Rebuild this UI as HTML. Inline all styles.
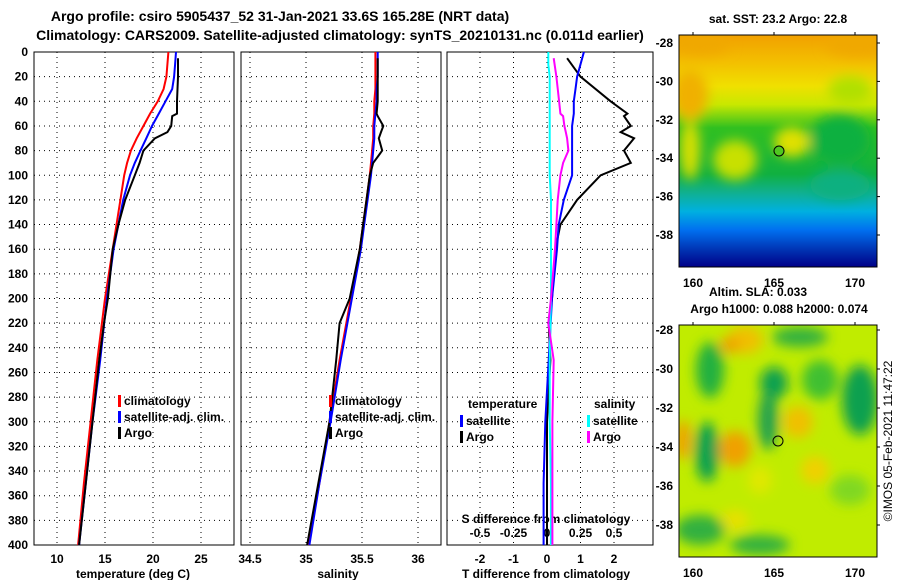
<!DOCTYPE html>
<html><head><meta charset="utf-8"><style>
body{margin:0;background:#fff;}
svg text{font-family:"Liberation Sans",sans-serif;font-weight:bold;fill:#000;}
</style></head><body>
<svg id="fig" width="900" height="580" xmlns="http://www.w3.org/2000/svg">
<defs>
<linearGradient id="sstg" x1="0" y1="0" x2="0" y2="1">
<stop offset="0" stop-color="#f2a000"/><stop offset="0.12" stop-color="#f3c000"/><stop offset="0.22" stop-color="#f0e000"/>
<stop offset="0.3" stop-color="#c8e800"/><stop offset="0.4" stop-color="#30c020"/><stop offset="0.6" stop-color="#10b040"/>
<stop offset="0.68" stop-color="#10b090"/><stop offset="0.76" stop-color="#00b0e0"/><stop offset="0.84" stop-color="#0070f0"/><stop offset="0.93" stop-color="#0030b0"/><stop offset="1" stop-color="#000088"/>
</linearGradient>
<filter id="bl" x="-50%" y="-50%" width="200%" height="200%"><feGaussianBlur stdDeviation="6"/></filter>
<clipPath id="c1"><rect x="679" y="35" width="198" height="232"/></clipPath>
<clipPath id="c2"><rect x="679" y="325" width="198" height="232"/></clipPath>
</defs>
<text x="280" y="21" font-size="14" text-anchor="middle">Argo profile: csiro 5905437_52 31-Jan-2021 33.6S 165.28E (NRT data)</text>
<text x="340" y="40" font-size="14" text-anchor="middle">Climatology: CARS2009. Satellite-adjusted climatology: synTS_20210131.nc (0.011d earlier)</text>
<g id="plots"></g>
<g>
<text x="778" y="23" font-size="12" text-anchor="middle">sat. SST: 23.2 Argo: 22.8</text>
<g clip-path="url(#c1)">
<rect x="679" y="35" width="198" height="232" fill="url(#sstg)"/>
<g filter="url(#bl)">
<ellipse cx="690" cy="95" rx="18" ry="25" fill="#f0b000"/>
<ellipse cx="860" cy="45" rx="35" ry="12" fill="#f0a800"/>
<ellipse cx="700" cy="45" rx="30" ry="10" fill="#f0a800"/>
<ellipse cx="735" cy="160" rx="22" ry="20" fill="#c8e000"/>
<ellipse cx="792" cy="142" rx="18" ry="15" fill="#e0e000"/>
<ellipse cx="690" cy="150" rx="10" ry="30" fill="#d8e000"/>
<ellipse cx="850" cy="90" rx="22" ry="14" fill="#b0e000"/>
<ellipse cx="840" cy="140" rx="30" ry="25" fill="#10b040"/>
<ellipse cx="840" cy="185" rx="30" ry="15" fill="#10b080"/>
</g></g>
<rect x="679" y="35" width="198" height="232" fill="none" stroke="#000"/>
<circle cx="779" cy="151" r="5" fill="#50c820" stroke="#000"/>
</g>
<text x="758" y="296" font-size="12" text-anchor="middle">Altim. SLA: 0.033</text>
<text x="779" y="313" font-size="12" text-anchor="middle">Argo h1000: 0.088 h2000: 0.074</text>
<g>
<g clip-path="url(#c2)">
<rect x="679" y="325" width="198" height="232" fill="#c0ec00"/>
<g filter="url(#bl)">
<ellipse cx="745" cy="340" rx="18" ry="14" fill="#f0c000"/>
<ellipse cx="730" cy="345" rx="10" ry="8" fill="#f0a000"/>
<ellipse cx="710" cy="370" rx="14" ry="28" fill="#20b040"/>
<ellipse cx="774" cy="383" rx="14" ry="16" fill="#10a050"/>
<ellipse cx="800" cy="337" rx="28" ry="10" fill="#30b040"/>
<ellipse cx="768" cy="420" rx="10" ry="30" fill="#20a050"/>
<ellipse cx="860" cy="400" rx="18" ry="35" fill="#10a050"/>
<ellipse cx="707" cy="452" rx="12" ry="30" fill="#10a050"/>
<ellipse cx="735" cy="449" rx="16" ry="18" fill="#f0a000"/>
<ellipse cx="683" cy="440" rx="8" ry="20" fill="#f0a000"/>
<ellipse cx="798" cy="422" rx="15" ry="16" fill="#f0c000"/>
<ellipse cx="815" cy="470" rx="14" ry="14" fill="#f0d000"/>
<ellipse cx="760" cy="480" rx="12" ry="14" fill="#e0e800"/>
<ellipse cx="735" cy="520" rx="14" ry="10" fill="#e8e000"/>
<ellipse cx="820" cy="380" rx="18" ry="20" fill="#40c030"/>
<ellipse cx="700" cy="530" rx="25" ry="15" fill="#30b040"/>
<ellipse cx="760" cy="545" rx="30" ry="10" fill="#30b040"/>
<ellipse cx="850" cy="490" rx="20" ry="15" fill="#80d820"/>
</g></g>
<rect x="679" y="325" width="198" height="232" fill="none" stroke="#000"/>
<circle cx="778" cy="441" r="5" fill="none" stroke="#000"/>
</g>
<text transform="translate(892,441) rotate(-90)" font-size="12" text-anchor="middle" style="font-weight:normal">©IMOS 05-Feb-2021 11:47:22</text>
</svg>
<script>
const depthTicks=[0,20,40,60,80,100,120,140,160,180,200,220,240,260,280,300,320,340,360,380,400];
const profDepth=[0,10,20,30,40,50,60,70,80,90,100,120,140,160,200,250,300,350,400];
const tempClim=[21.6,21.5,21.4,21.1,20.5,19.7,19.0,18.3,17.7,17.3,17.0,16.6,16.2,15.8,15.0,14.2,13.5,12.8,12.2];
const tempSat=[22.4,22.3,22.2,22.0,21.3,20.6,19.9,19.3,18.7,18.1,17.6,16.9,16.4,15.9,15.2,14.5,13.7,13.0,12.3];
const argoDepth=[5,20,40,50,52,60,65,70,80,90,100,120,140,160,200,220,250,300,350,400];
const tempArgo=[22.6,22.6,22.5,22.5,22.0,21.9,21.5,20.2,19.0,18.6,18.1,17.1,16.4,15.8,15.3,14.9,14.4,13.7,13.0,12.3];
const salClim=[35.62,35.62,35.62,35.62,35.61,35.61,35.6,35.6,35.59,35.58,35.57,35.54,35.51,35.48,35.4,35.3,35.21,35.12,35.02];
const salSat=[35.64,35.64,35.64,35.63,35.63,35.62,35.61,35.61,35.6,35.59,35.58,35.55,35.52,35.49,35.41,35.31,35.22,35.12,35.03];
const salArgo=[35.64,35.64,35.64,35.63,35.64,35.69,35.67,35.65,35.68,35.6,35.57,35.54,35.51,35.48,35.39,35.3,35.27,35.21,35.11,35.01];
const tDiffArgo=[0.6,1.0,1.9,2.4,2.3,2.5,2.2,2.6,2.3,2.5,1.6,0.9,0.4,0.25,0.15,0.05,0.1,0.0,0.0,0.0];
const tDiffSat=[1.1,1.0,0.9,0.85,0.8,0.8,0.75,0.75,0.75,0.75,0.75,0.5,0.35,0.3,0.15,0.05,-0.05,-0.1,-0.1];
const sDiffSat=[0.01,0.01,0.02,0.02,0.02,0.02,0.02,0.02,0.02,0.02,0.02,0.03,0.03,0.03,0.03,0.02,0.02,0.03,0.03];
const sDiffArgo=[0.05,0.07,0.09,0.1,0.12,0.13,0.14,0.15,0.16,0.12,0.1,0.08,0.07,0.06,0.03,0.01,0.05,0.04,0.04,0.04];
const tTicks=[10,15,20,25];
const sTicks=[34.5,35,35.5,36];
const tdTicks=[-2,-1,0,1,2];
const sdTicks=[-0.5,-0.25,0,0.25,0.5];
const sstLatTicks=[-28,-30,-32,-34,-36,-38];
const lonTicks=[160,165,170];

const NS="http://www.w3.org/2000/svg";
const root=document.getElementById('plots');
function el(t,a,p){const e=document.createElementNS(NS,t);for(const k in a)e.setAttribute(k,a[k]);(p||root).appendChild(e);return e;}
const yD=d=>52+d*(545-52)/400;
const xT=t=>57+(t-10)*9.6;
const xS=s=>306+(s-35)*112;
const xTD=t=>547+t*33.5;
const xSD=s=>547+s*134;
const panels=[[34,200],[241,200],[447,206]];
panels.forEach((p,i)=>{
  const g=el('g',{});
  
  
  depthTicks.slice(1,-1).forEach(d=>{const l=el('line',{x1:p[0],x2:p[0]+p[1],y1:yD(d),y2:yD(d),stroke:'#000','stroke-dasharray':'1,4'},g);
    });
  const r=el('rect',{x:p[0],y:52,width:p[1],height:493,fill:'none',stroke:'#000'},g);
  
});
function vgrid(ticks,f,name){ticks.forEach(t=>{const l=el('line',{x1:f(t),x2:f(t),y1:52,y2:545,stroke:'#000','stroke-dasharray':'1,4'});
  });}
vgrid(tTicks,xT,'temp-grid');vgrid(sTicks,xS,'sal-grid');vgrid(tdTicks,xTD,'tdiff-grid');
function txt(x,y,s,name,anchor,size){const t=el('text',{x:x,y:y,'font-size':size||12,'text-anchor':anchor||'middle'});t.textContent=s;
  return t;}
depthTicks.forEach(d=>txt(28,yD(d)+4,d,'depth-tick-label','end'));
tTicks.forEach(t=>txt(xT(t),563,t,'temp-tick-label'));
sTicks.forEach(t=>txt(xS(t),563,t,'sal-tick-label'));
tdTicks.forEach(t=>txt(xTD(t),563,t,'tdiff-tick-label'));
sdTicks.forEach(t=>txt(xSD(t),537,t,'sdiff-tick-label'));
txt(133,578,'temperature (deg C)','temp-axis-title');
txt(338,578,'salinity','sal-axis-title');
txt(546,578,'T difference from climatology','tdiff-axis-title');
txt(546,523,'S difference from climatology','sdiff-axis-title');
function line(xs,ds,fx,col,name){const pts=xs.map((v,i)=>fx(v).toFixed(1)+','+yD(ds[i]).toFixed(1)).join(' ');
  const l=el('polyline',{points:pts,fill:'none',stroke:col,'stroke-width':2});}
line(tempClim,profDepth,xT,'#f00','temp-climatology-line');
line(tempSat,profDepth,xT,'#00f','temp-satellite-line');
line(tempArgo,argoDepth,xT,'#000','temp-argo-line');
line(salClim,profDepth,xS,'#f00','sal-climatology-line');
line(salSat,profDepth,xS,'#00f','sal-satellite-line');
line(salArgo,argoDepth,xS,'#000','sal-argo-line');
line(tDiffArgo,argoDepth,xTD,'#000','tdiff-argo-line');
line(tDiffSat,profDepth,xTD,'#00f','tdiff-satellite-line');
line(sDiffSat,profDepth,xSD,'#0ff','sdiff-satellite-line');
line(sDiffArgo,argoDepth,xSD,'#f0f','sdiff-argo-line');
function leg(x,y,col,s,name){const r=el('rect',{x:x,y:y-9,width:3,height:12,fill:col});
  txt(x+6,y+1,s,name,'start');}
leg(118,404,'#f00','climatology','legend-climatology');
leg(118,420,'#00f','satellite-adj. clim.','legend-satellite');
leg(118,436,'#000','Argo','legend-argo');
leg(329,404,'#f00','climatology','legend-sal-climatology');
leg(329,420,'#00f','satellite-adj. clim.','legend-sal-satellite');
leg(329,436,'#000','Argo','legend-sal-argo');
txt(468,408,'temperature','legend-temperature-heading','start');
txt(594,408,'salinity','legend-salinity-heading','start');
leg(460,424,'#00f','satellite','legend-t-satellite');
leg(460,440,'#000','Argo','legend-t-argo');
leg(587,424,'#0ff','satellite','legend-s-satellite');
leg(587,440,'#f0f','Argo','legend-s-argo');
const yM1=l=>43+(-28-l)*19.2, yM2=l=>330+(-28-l)*19.5, xM=o=>693+(o-160)*16.2;
sstLatTicks.forEach(l=>{txt(673,yM1(l)+4,l,'sst-lat-label','end');txt(673,yM2(l)+4,l,'sla-lat-label','end');
  el('line',{x1:874,x2:880,y1:yM1(l),y2:yM1(l),stroke:'#000'});el('line',{x1:874,x2:880,y1:yM2(l),y2:yM2(l),stroke:'#000'});});
lonTicks.forEach(o=>{txt(xM(o),287,o,'sst-lon-label');txt(xM(o),577,o,'sla-lon-label');
  el('line',{x1:xM(o),x2:xM(o),y1:32,y2:38,stroke:'#000'});el('line',{x1:xM(o),x2:xM(o),y1:322,y2:328,stroke:'#000'});});
</script>
</body></html>
